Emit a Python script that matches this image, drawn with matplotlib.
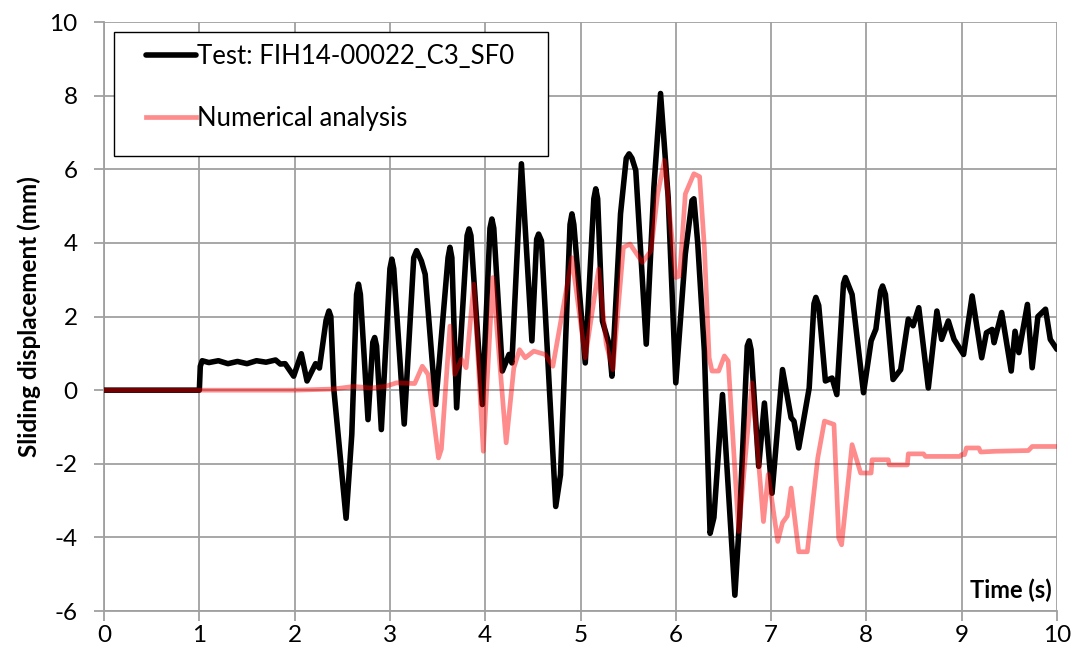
import matplotlib
matplotlib.use("Agg")
import matplotlib.pyplot as plt
from matplotlib.patches import Rectangle

plt.rcParams['font.family'] = ['Lato', 'DejaVu Sans']
plt.rcParams['axes.unicode_minus'] = False

# Test record (black)
t_test = [0.0, 1.0, 1.01, 1.03, 1.1, 1.2, 1.3, 1.4, 1.5, 1.6, 1.7, 1.8, 1.85, 1.9,
          1.99, 2.07, 2.13, 2.22, 2.26, 2.33, 2.36, 2.38, 2.41, 2.54, 2.60, 2.65, 2.67,
          2.69, 2.77, 2.82, 2.84, 2.86, 2.91, 3.0, 3.02, 3.04, 3.15, 3.25, 3.28, 3.33,
          3.37, 3.48, 3.61, 3.63, 3.65, 3.70, 3.81, 3.83, 3.85, 3.97, 4.05, 4.07,
          4.09, 4.18, 4.25, 4.28, 4.38, 4.49, 4.54, 4.56, 4.59, 4.74, 4.79, 4.89,
          4.91, 4.93, 5.05, 5.14, 5.16, 5.18, 5.23, 5.30, 5.33, 5.42, 5.48, 5.51,
          5.54, 5.58, 5.69, 5.77, 5.84, 5.92, 6.00, 6.10, 6.17, 6.19, 6.23, 6.30,
          6.36, 6.40, 6.49, 6.62, 6.67, 6.75, 6.77, 6.79, 6.87, 6.93, 7.01, 7.12,
          7.21, 7.24, 7.29, 7.40, 7.45, 7.47, 7.50, 7.57, 7.64, 7.69, 7.76, 7.78,
          7.85, 7.97, 8.05, 8.10, 8.15, 8.17, 8.20, 8.28, 8.36, 8.44, 8.49, 8.55,
          8.65, 8.74, 8.79, 8.86, 8.92, 9.02, 9.11, 9.21, 9.26, 9.32, 9.34, 9.42,
          9.52, 9.56, 9.60, 9.69, 9.74, 9.80, 9.88, 9.93, 10.0]
d_test = [0.0, 0.0, 0.65, 0.8, 0.75, 0.8, 0.72, 0.78, 0.72, 0.8, 0.76, 0.82, 0.71, 0.72,
          0.38, 0.99, 0.25, 0.72, 0.6, 1.9, 2.15, 2.0, 0.06, -3.48, -1.2, 2.6, 2.88,
          2.6, -0.8, 1.3, 1.43, 1.2, -1.07, 3.3, 3.56, 3.3, -0.92, 3.6, 3.79, 3.51,
          3.15, -0.39, 3.6, 3.88, 3.6, -0.48, 4.2, 4.38, 4.2, -0.39, 4.4, 4.65,
          4.4, 0.52, 0.97, 0.74, 6.15, 1.34, 4.1, 4.24, 4.06, -3.16, -2.3, 4.5,
          4.79, 4.5, 0.74, 5.2, 5.47, 5.2, 1.88, 1.25, 0.38, 4.79, 6.3, 6.42,
          6.3, 5.97, 1.25, 5.51, 8.06, 5.24, 0.20, 3.70, 5.15, 5.2, 4.0, 1.06,
          -3.89, -3.46, -0.12, -5.57, -3.46, 1.2, 1.34, 1.1, -2.07, -0.35, -2.80, 0.56,
          -0.75, -0.84, -1.57, 0.06, 2.35, 2.52, 2.3, 0.25, 0.33, -0.12, 2.9, 3.06,
          2.6, -0.07, 1.34, 1.66, 2.7, 2.83, 2.6, 0.29, 0.56, 1.93, 1.75, 2.24,
          0.06, 2.15, 1.38, 1.88, 1.38, 0.97, 2.56, 0.88, 1.56, 1.65, 1.29, 2.11,
          0.52, 1.6, 1.02, 2.33, 0.61, 2.0, 2.2, 1.38, 1.11]

# Numerical analysis (red)
t_num = [0.0, 2.0, 2.4, 2.62, 2.8, 2.95, 3.07, 3.26, 3.34, 3.40, 3.51, 3.54, 3.63,
         3.68, 3.75, 3.80, 3.88, 3.98, 4.08, 4.22, 4.30, 4.36, 4.42, 4.51, 4.63,
         4.71, 4.80, 4.91, 5.05, 5.19, 5.27, 5.34, 5.45, 5.52, 5.65, 5.74, 5.81,
         5.88, 6.00, 6.04, 6.10, 6.19, 6.25, 6.30, 6.35, 6.38, 6.45, 6.51, 6.55,
         6.66, 6.80, 6.92, 6.97, 7.07, 7.12, 7.17, 7.21, 7.29, 7.38, 7.49, 7.56,
         7.66, 7.71, 7.74, 7.85, 7.94, 8.05, 8.06, 8.23, 8.24, 8.43, 8.44, 8.60,
         8.62, 8.98, 9.0, 9.03, 9.05, 9.18, 9.20, 9.35, 9.70, 9.74, 10.0]
d_num = [0.0, 0.0, 0.03, 0.1, 0.06, 0.1, 0.2, 0.18, 0.65, 0.43, -1.84, -1.6, 1.74,
         0.43, 0.84, 0.61, 2.88, -1.66, 3.06, -1.43, 0.6, 1.1, 0.88, 1.06, 0.97,
         0.65, 1.97, 3.6, 0.88, 3.29, 1.25, 0.56, 3.88, 3.97, 3.47, 3.79, 5.33,
         6.24, 3.06, 3.1, 5.33, 5.88, 5.8, 3.88, 0.88, 0.52, 0.52, 0.93, 0.79,
         -3.84, 0.2, -3.57, -2.29, -4.11, -3.6, -3.42, -2.66, -4.39, -4.39, -1.84, -0.84,
         -0.93, -4.02, -4.2, -1.48, -2.25, -2.25, -1.89, -1.89, -2.03, -2.03, -1.73, -1.73,
         -1.80, -1.80, -1.75, -1.75, -1.57, -1.57, -1.68, -1.66, -1.64, -1.53, -1.53]

x_ticks = list(range(0, 11))
y_ticks = list(range(-6, 11, 2))

fig = plt.figure(figsize=(10.76, 6.61), dpi=100)
ax = fig.add_axes([0.0967, 0.0756, 0.8856, 0.891])

ax.plot(t_test, d_test, color='black', lw=4.0, solid_joinstyle='round',
        solid_capstyle='round', label='Test: FIH14-00022_C3_SF0', zorder=3)
ax.plot(t_num, d_num, color='red', alpha=0.45, lw=3.4, solid_joinstyle='round',
        label='Numerical analysis', zorder=4)

ax.set_xlim(0, 10)
ax.set_ylim(-6, 10)
ax.set_xticks(x_ticks)
ax.set_yticks(y_ticks)
ax.grid(True, color='#a0a0a0', lw=1.3, zorder=0)
ax.set_axisbelow(True)
for side in ['top', 'right']:
    ax.spines[side].set_visible(False)
for side in ['left', 'bottom']:
    ax.spines[side].set_color('#a0a0a0')
    ax.spines[side].set_linewidth(1.3)
ax.tick_params(axis='both', direction='out', length=7, width=1.3, color='#a0a0a0',
               labelsize=17.5, labelcolor='black')
ax.tick_params(axis='x', pad=3)
ax.tick_params(axis='y', pad=12)

ax.set_ylabel('Sliding displacement (mm)', fontsize=17.5, fontweight='bold', labelpad=6)
ax.text(0.995, 0.015, 'Time (s)', transform=ax.transAxes, ha='right', va='bottom',
        fontsize=17, fontweight='bold')

# legend box drawn separately so the inner padding matches the original
ax.add_patch(Rectangle((0.010, 0.7725), 0.456, 0.2105, transform=ax.transAxes,
                       facecolor='white', edgecolor='black', lw=1.0, zorder=5))
leg = ax.legend(loc='upper left', bbox_to_anchor=(0.044, 0.962), frameon=False,
                borderaxespad=0, borderpad=0, fontsize=18.5, handlelength=1.95,
                handletextpad=0.05, labelspacing=1.42)
leg.set_zorder(6)

fig.savefig('out.png', dpi=100)
